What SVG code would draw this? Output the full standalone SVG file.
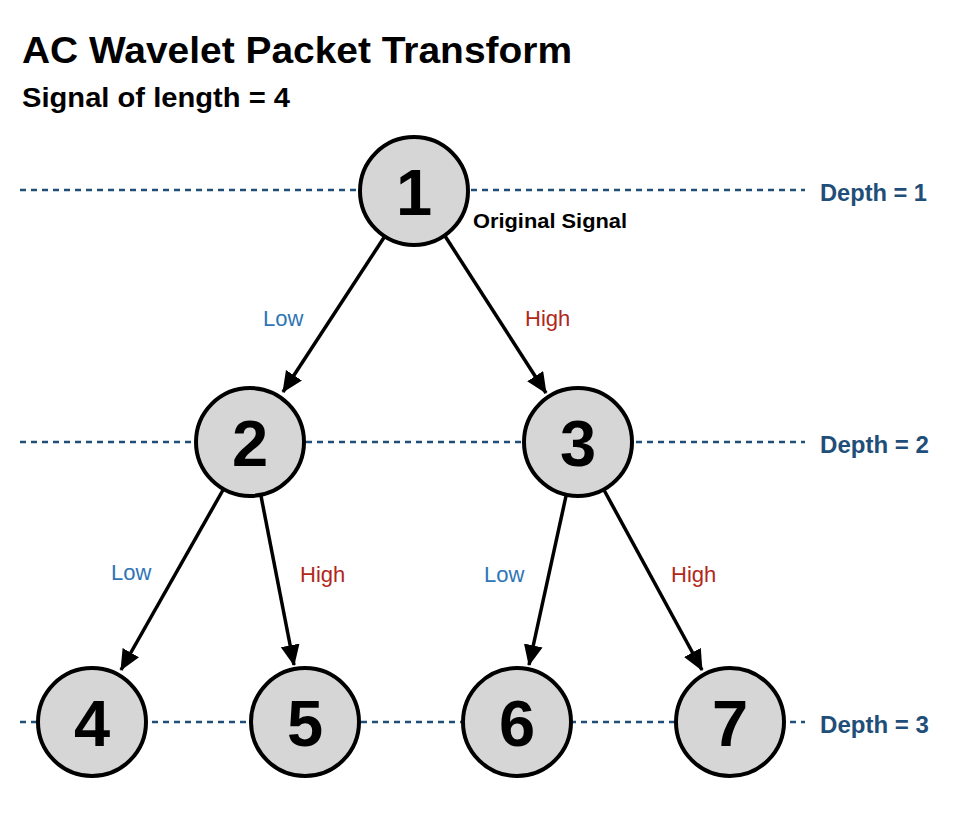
<svg xmlns="http://www.w3.org/2000/svg" width="970" height="814" viewBox="0 0 970 814">
<style>
.title{font-family:"Liberation Sans",Arial,sans-serif;font-weight:bold;fill:#000}
.depth{stroke:#1f4e79;stroke-width:2.5;stroke-dasharray:6 5;fill:none}
.dlabel{font-family:"Liberation Sans",Arial,sans-serif;font-weight:bold;font-size:23px;fill:#1f4e79}
.node circle{fill:#d6d6d6;stroke:#000;stroke-width:4}
.node text{font-family:"Liberation Sans",Arial,sans-serif;font-weight:bold;font-size:65px;fill:#000;text-anchor:middle}
.edge{stroke:#000;stroke-width:3.5;fill:none;marker-end:url(#arr)}
.low{font-family:"Liberation Sans",Arial,sans-serif;font-size:22px;fill:#2e75b6}
.high{font-family:"Liberation Sans",Arial,sans-serif;font-size:22px;fill:#b0281a}
</style>
<defs>
<marker id="arr" markerUnits="userSpaceOnUse" markerWidth="24" markerHeight="22" refX="20" refY="9.5" orient="auto">
<path d="M0,0 L21,9.5 L0,19 Z" fill="#000"/>
</marker>
</defs>
<rect width="970" height="814" fill="#fff"/>
<text class="title" x="22" y="63" font-size="36" textLength="550" lengthAdjust="spacingAndGlyphs">AC Wavelet Packet Transform</text>
<text class="title" x="22" y="107" font-size="27" textLength="268" lengthAdjust="spacingAndGlyphs">Signal of length = 4</text>
<g id="depths">
<line class="depth" x1="20" y1="190" x2="805" y2="190"/>
<line class="depth" x1="20" y1="442" x2="805" y2="442"/>
<line class="depth" x1="20" y1="722" x2="805" y2="722"/>
<text class="dlabel" x="820" y="201" textLength="107" lengthAdjust="spacingAndGlyphs">Depth = 1</text>
<text class="dlabel" x="820" y="453" textLength="109" lengthAdjust="spacingAndGlyphs">Depth = 2</text>
<text class="dlabel" x="820" y="733" textLength="109" lengthAdjust="spacingAndGlyphs">Depth = 3</text>
</g>
<g id="connectors">
<line class="edge" x1="385" y1="236" x2="283" y2="392"/>
<line class="edge" x1="445" y1="236" x2="546" y2="393"/>
<line class="edge" x1="223" y1="490" x2="121" y2="670"/>
<line class="edge" x1="261" y1="496" x2="294" y2="665"/>
<line class="edge" x1="566" y1="496" x2="529" y2="665"/>
<line class="edge" x1="604" y1="490" x2="702" y2="670"/>
<text class="low" x="263" y="326">Low</text>
<text class="high" x="525" y="326">High</text>
<text class="low" x="111" y="580">Low</text>
<text class="high" x="300" y="582">High</text>
<text class="low" x="484" y="582">Low</text>
<text class="high" x="671" y="582">High</text>
</g>
<g id="n1" class="node"><circle cx="414" cy="191" r="54"/><text x="414" y="215">1</text></g>
<text class="title" x="473" y="228" font-size="21" textLength="154" lengthAdjust="spacingAndGlyphs">Original Signal</text>
<g id="n2" class="node"><circle cx="250" cy="442" r="54"/><text x="250" y="466">2</text></g>
<g id="n3" class="node"><circle cx="578" cy="442" r="54"/><text x="578" y="466">3</text></g>
<g id="n4" class="node"><circle cx="92" cy="722" r="54"/><text x="92" y="746">4</text></g>
<g id="n5" class="node"><circle cx="305" cy="722" r="54"/><text x="305" y="746">5</text></g>
<g id="n6" class="node"><circle cx="517" cy="722" r="54"/><text x="517" y="746">6</text></g>
<g id="n7" class="node"><circle cx="730" cy="722" r="54"/><text x="730" y="746">7</text></g>
</svg>
